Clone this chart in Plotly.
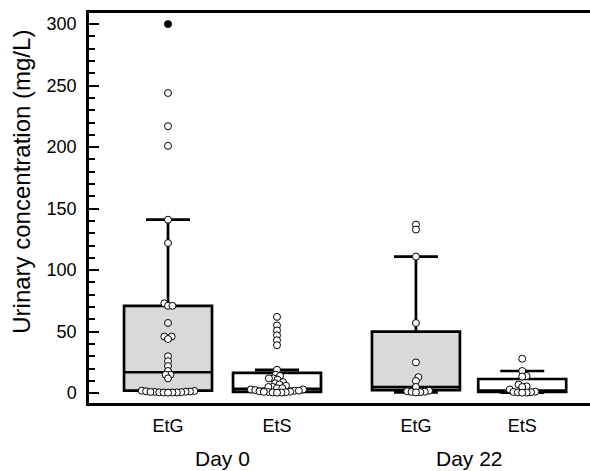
import math
import plotly.graph_objects as go

# ---- data ----
categories = ["EtG", "EtS", "EtG", "EtS"]
days = ["Day 0", "Day 0", "Day 22", "Day 22"]
positions = [1.0, 2.0, 3.275, 4.25]

etg_day0 = [300, 244, 217, 201, 141, 122, 73, 71, 71, 57, 46, 46, 44, 30, 26, 22, 18,
            15, 15, 12, 2, 1.8, 1.5, 1.3, 1.2, 1, 1, 0.8, 0.7, 0.6, 0.5, 0.5, 0.4]
ets_day0 = [62, 55, 51, 47, 43, 39, 19, 15, 14, 12, 12, 11, 9, 8, 7, 6, 5, 5, 4, 4,
            3, 3, 2.5, 2, 2, 1.5, 1.2, 1, 1, 0.8, 0.6, 0.5, 0.4]
etg_day22 = [137, 133, 111, 57, 25, 13, 10, 5, 2, 1.5, 1.2, 1, 0.8, 0.6]
ets_day22 = [28, 18, 14, 13.5, 7, 5.5, 5, 3, 1.2, 1, 0.8, 0.6, 0.5, 0.4]
series = [etg_day0, ets_day0, etg_day22, ets_day22]

q1 = [2, 1, 2.5, 1]
median = [17, 3.5, 5, 2]
q3 = [71, 16.5, 50, 11.5]
lowerfence = [0.4, 0.4, 0.6, 0.4]
upperfence = [141, 19, 111, 18]

y_ticks = [0, 50, 100, 150, 200, 250, 300]

# ---- layout geometry ----
W, H = 590, 471
ML, MR, MT, MB = 89, 0, 13, 68
XR = [0.275, 4.872]
YR = [-8, 309]
ppu_x = (W - ML - MR) / (XR[1] - XR[0])
ppu_y = (H - MT - MB) / (YR[1] - YR[0])
SEP = 4.4  # px separation in swarm


def swarm(values, center):
    order = sorted(range(len(values)), key=lambda i: values[i])
    placed = []
    xs = [0.0] * len(values)
    for i in order:
        y = values[i] * ppu_y
        cands = [0.0]
        for px, py in placed:
            dy = abs(py - y)
            if dy < SEP:
                dx = math.sqrt(SEP ** 2 - dy ** 2)
                cands += [px + dx, px - dx]
        cands.sort(key=abs)
        chosen = cands[-1]
        for c in cands:
            if all((c - px) ** 2 + (y - py) ** 2 >= SEP ** 2 - 1e-6 for px, py in placed):
                chosen = c
                break
        placed.append((chosen, y))
        xs[i] = center + chosen / ppu_x
    return xs


fig = go.Figure()
fills = {"EtG": "#d9d9d9", "EtS": "#ffffff"}
for k in range(4):
    fig.add_trace(go.Box(
        x=[positions[k]], q1=[q1[k]], median=[median[k]], q3=[q3[k]],
        lowerfence=[lowerfence[k]], upperfence=[upperfence[k]],
        width=0.807, whiskerwidth=0.5, boxpoints=False,
        fillcolor=fills[categories[k]], line=dict(color="black", width=2.7),
        showlegend=False, hoverinfo="skip"))

for k in range(4):
    vals = series[k]
    iqr = q3[k] - q1[k]
    far = q3[k] + 3 * iqr
    xs = swarm(vals, positions[k])
    colors = ["black" if v > far else "white" for v in vals]
    fig.add_trace(go.Scatter(
        x=xs, y=vals, mode="markers",
        marker=dict(size=7, color=colors, line=dict(color="black", width=1)),
        showlegend=False, cliponaxis=False))

font = "Liberation Sans, Arial, sans-serif"
fig.update_layout(
    width=W, height=H, margin=dict(l=ML, r=MR, t=MT, b=MB, autoexpand=False),
    paper_bgcolor="white", plot_bgcolor="white", boxmode="overlay",
    font=dict(family=font, color="black", size=18),
    xaxis=dict(range=XR, showgrid=False, zeroline=False, showline=True, mirror=True,
               automargin=False,
               linecolor="black", linewidth=3, tickvals=positions, ticktext=categories,
               ticks="outside", ticklen=4, tickcolor="rgba(0,0,0,0)", tickfont=dict(size=18)),
    yaxis=dict(range=YR, showgrid=False, zeroline=False, showline=True, automargin=False,
               linecolor="black", linewidth=2.5, tickvals=y_ticks, ticks="inside",
               ticklen=10, tickwidth=2, tickcolor="black", tickfont=dict(size=18),
               ticklabelstandoff=6,
               minor=dict(dtick=10, ticks="inside", ticklen=6, tickwidth=2,
                          tickcolor="black", showgrid=False)),
)

# group labels
groups = []
for d in days:
    if d not in groups:
        groups.append(d)
for g in groups:
    ps = [positions[i] for i in range(4) if days[i] == g]
    fig.add_annotation(x=sum(ps) / len(ps), y=0, xref="x", yref="paper", yanchor="middle",
                       yshift=-55, text=g, showarrow=False, font=dict(size=21))

fig.add_annotation(x=-0.134, xref="paper", y=0.567, yref="paper", xanchor="center",
                   text="Urinary concentration (mg/L)",
                   textangle=-90, showarrow=False, font=dict(size=24))

fig.write_html("out.html", config={"displayModeBar": False},
               post_script="document.body.style.margin='0';")
